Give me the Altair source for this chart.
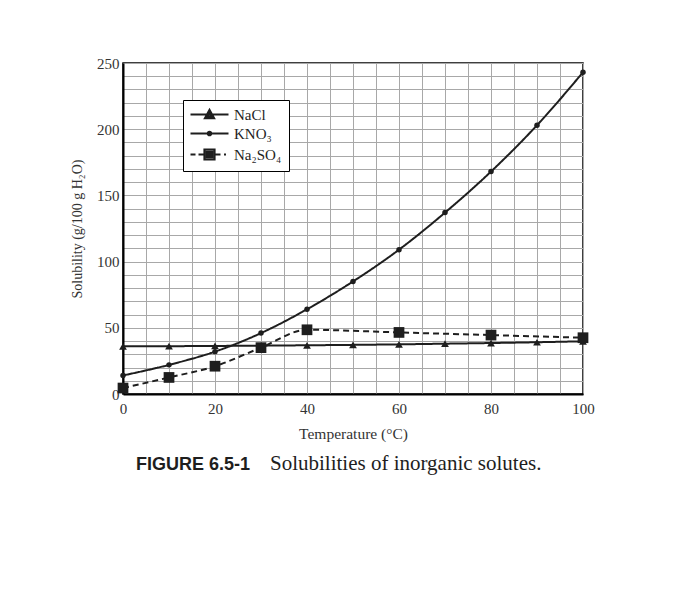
import altair as alt
import pandas as pd

# ---- data ----
temps = [0, 10, 20, 30, 40, 50, 60, 70, 80, 90, 100]
nacl = [36.0, 36.1, 36.3, 36.5, 36.8, 37.1, 37.5, 38.0, 38.5, 39.1, 39.8]
kno3 = [14, 22, 32, 46, 64, 85, 109, 137, 168, 203, 243]
na2so4_temps = [0, 10, 20, 30, 40, 60, 80, 100]
na2so4 = [4.5, 12.5, 21, 35, 48.5, 46.5, 44.5, 42.5]

series_names = ["NaCl", "KNO₃", "Na₂SO₄"]
x_ticks = list(range(0, 101, 5))
y_ticks = list(range(0, 251, 10))
caption_label = "FIGURE 6.5-1"
caption_text = "Solubilities of inorganic solutes."

rows = []
for t, v in zip(temps, nacl):
    rows.append({"T": t, "S": v, "series": series_names[0]})
for t, v in zip(temps, kno3):
    rows.append({"T": t, "S": v, "series": series_names[1]})
for t, v in zip(na2so4_temps, na2so4):
    rows.append({"T": t, "S": v, "series": series_names[2]})
df = pd.DataFrame(rows)

INK = "#1e1e1e"
SERIF = "Liberation Serif"

x_enc = alt.X("T:Q", scale=alt.Scale(domain=[0, 100], nice=False),
              axis=alt.Axis(values=x_ticks, title="Temperature (°C)",
                            labelExpr="datum.value % 20 == 0 ? datum.label : ''"))
y_enc = alt.Y("S:Q", scale=alt.Scale(domain=[0, 250], nice=False),
              axis=alt.Axis(values=y_ticks, title="Solubility (g/100 g H₂O)",
                            labelExpr="datum.value % 50 == 0 ? datum.label : ''"))

base = alt.Chart(df)

lines = base.mark_line(interpolate="monotone", color=INK, strokeWidth=2).encode(
    x=x_enc, y=y_enc, detail="series:N",
    strokeDash=alt.StrokeDash("series:N",
                              scale=alt.Scale(domain=series_names, range=[[1, 0], [1, 0], [6, 4]]),
                              legend=None),
)

marker_shapes = ["triangle-up", "circle", "square"]
marker_sizes = [60, 30, 115]
point_layers = []
for name, shp, sz in zip(series_names, marker_shapes, marker_sizes):
    point_layers.append(
        base.transform_filter(alt.datum.series == name)
        .mark_point(filled=True, color=INK, opacity=1, shape=shp, size=sz)
        .encode(x=x_enc, y=y_enc)
    )

# legend glyphs: a line segment with the series marker (stroke-only, nested to look solid)
legend_paths = [
    "M-3.8,0L3.8,0M-0.9,0.75L0,-0.9L0.9,0.75ZM-0.4,0.45L0,-0.3L0.4,0.45Z",
    "M-3.8,0L3.8,0M0.35,0A0.35,0.35,0,1,1,-0.35,0A0.35,0.35,0,1,1,0.35,0Z",
    "M-3.8,0L-2.8,0M-2.2,0L-1.2,0M1.2,0L2.2,0M2.9,0L3.3,0"
    "M-1,-1L1,-1L1,1L-1,1ZM-0.55,-0.55L0.55,-0.55L0.55,0.55L-0.55,0.55Z"
    "M-0.15,-0.15L0.15,-0.15L0.15,0.15L-0.15,0.15Z",
]

legend_layer = base.transform_filter("datum.T < -1000").mark_point(
    filled=False, color=INK, strokeWidth=2.2, opacity=1
).encode(
    x=x_enc, y=y_enc,
    shape=alt.Shape("series:N",
                    scale=alt.Scale(domain=series_names, range=legend_paths),
                    legend=alt.Legend(title=None, orient="none", legendX=60, legendY=37,
                                      strokeColor="black", fillColor="white", padding=7,
                                      labelFont=SERIF, labelFontSize=15, labelColor=INK,
                                      symbolSize=100, symbolStrokeWidth=2.2,
                                      symbolStrokeColor=INK, symbolFillColor=INK,
                                      symbolOpacity=1,
                                      symbolOffset=12, labelOffset=17, rowPadding=3)),
)

cap1 = alt.Chart(pd.DataFrame({"t": [caption_label]})).mark_text(
    font="Liberation Sans", fontWeight="bold", fontSize=18, align="left",
    baseline="alphabetic", color=INK).encode(text="t:N", x=alt.value(13), y=alt.value(407))
cap2 = alt.Chart(pd.DataFrame({"t": [caption_text]})).mark_text(
    font=SERIF, fontSize=21, align="left",
    baseline="alphabetic", color=INK).encode(text="t:N", x=alt.value(147), y=alt.value(407))

chart = alt.layer(lines, *point_layers, legend_layer, cap1, cap2).resolve_scale(
    shape="independent"
).properties(
    width=460, height=331,
    autosize=alt.AutoSizeParams(type="none"),
    padding={"left": 115, "top": 55, "right": 109, "bottom": 214},
).configure_view(
    stroke="black", strokeWidth=1.5
).configure_axis(
    grid=True, gridColor="#a8a8a8", gridWidth=1,
    ticks=False, domain=True, domainColor="black", domainWidth=2,
    labelFont=SERIF, labelFontSize=15, labelColor="#333", labelFlush=False,
    titleFont=SERIF, titleColor="#333", titleFontWeight="normal",
).configure_axisX(
    labelPadding=7, titlePadding=10, titleFontSize=15.5,
).configure_axisY(
    labelPadding=4, titlePadding=12, titleFontSize=14,
)

chart.save("out.html", embed_options={"renderer": "svg", "actions": False})
